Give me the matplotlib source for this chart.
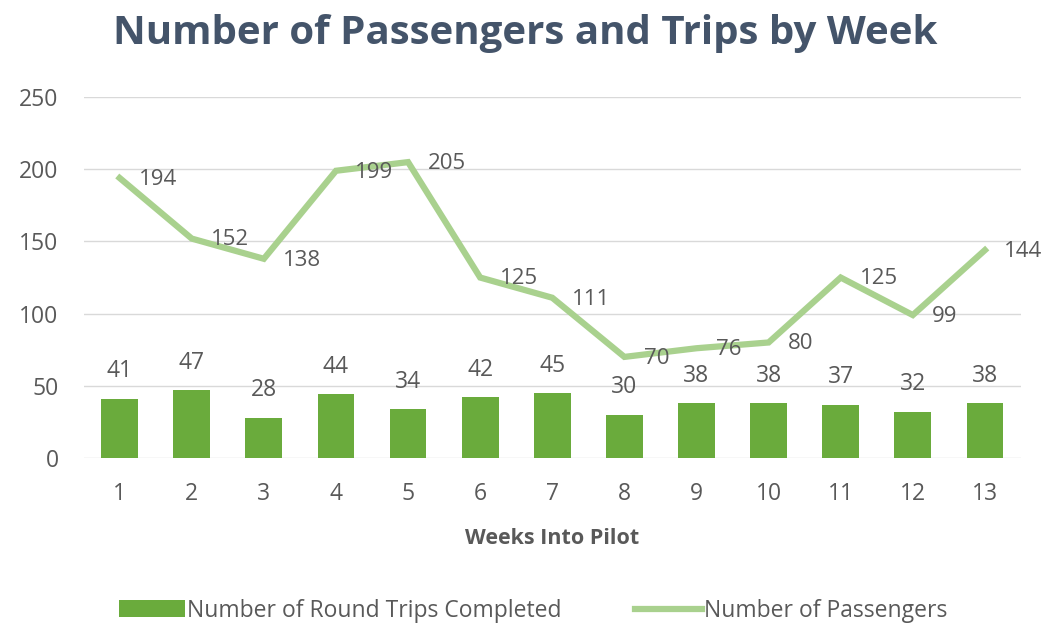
import numpy as np
import matplotlib.pyplot as plt

weeks = [1, 2, 3, 4, 5, 6, 7, 8, 9, 10, 11, 12, 13]
round_trips = [41, 47, 28, 44, 34, 42, 45, 30, 38, 38, 37, 32, 38]
passengers = [194, 152, 138, 199, 205, 125, 111, 70, 76, 80, 125, 99, 144]

plt.rcParams['font.family'] = ['Open Sans', 'DejaVu Sans']
txt = '#595959'

fig = plt.figure(figsize=(10.45, 6.23), dpi=100)
ax = fig.add_axes([0.080, 0.265, 0.897, 0.579])

x = np.arange(len(weeks))
bars = ax.bar(x, round_trips, width=0.51, color='#6aab3c', zorder=2,
              label='Number of Round Trips Completed')
line, = ax.plot(x, passengers, color='#a9d18e', lw=4.5, zorder=3,
                solid_joinstyle='miter', label='Number of Passengers')

for xi, v in zip(x, round_trips):
    ax.annotate(str(v), (xi, v), xytext=(0, 11), textcoords='offset points',
                ha='center', va='bottom', fontsize=16.5, color=txt)
for xi, v in zip(x, passengers):
    ax.annotate(str(v), (xi, v), xytext=(14, -1), textcoords='offset points',
                ha='left', va='center', fontsize=16, color=txt)

ax.set_xlim(-0.5, len(weeks) - 0.5)
ax.set_ylim(0, 250)
ax.set_yticks(range(0, 251, 50))
ax.set_xticks(x)
ax.set_xticklabels([str(w) for w in weeks])
ax.grid(axis='y', color='#d9d9d9', lw=1, zorder=0)
for s in ax.spines.values():
    s.set_visible(False)
ax.tick_params(length=0, labelsize=16.5, labelcolor=txt)
ax.tick_params(axis='y', pad=18)
ax.tick_params(axis='x', pad=17)
ax.set_xlabel('Weeks Into Pilot', fontsize=15.5, fontweight='bold', color=txt, labelpad=16)

fig.text(0.503, 0.947, 'Number of Passengers and Trips by Week', ha='center', va='center',
         fontsize=29, fontweight='bold', color='#44546a')

fig.legend(handles=[bars, line], loc='center', bbox_to_anchor=(0.51, 0.02),
           ncol=2, frameon=False, fontsize=16.5, labelcolor=txt,
           handlelength=2.9, handleheight=0.7, columnspacing=3.2, handletextpad=0.1)

fig.savefig('out.png', dpi=100)
